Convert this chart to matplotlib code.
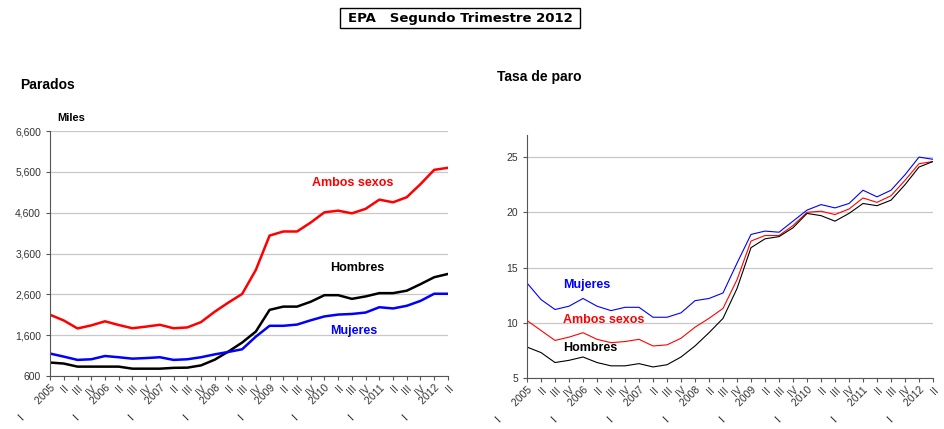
import matplotlib.pyplot as plt
from matplotlib.patches import Rectangle
import numpy as np

plt.rcParams['font.family'] = ['Liberation Sans', 'DejaVu Sans']

# Quarters 2005 I .. 2012 II
years = list(range(2005, 2013))
quarter_names = ["I", "II", "III", "IV"]
tick_labels = []
for y in years:
    for q in quarter_names:
        tick_labels.append(f"{q}       {y}" if q == "I" else q)
tick_labels = tick_labels[:30]

# Parados (miles)
parados_ambos = [2100, 1960, 1765, 1840, 1940, 1850, 1770, 1810, 1855, 1770, 1790, 1920,
                 2175, 2400, 2610, 3200, 4040, 4140, 4140, 4360, 4610, 4650, 4585, 4695,
                 4920, 4855, 4980, 5300, 5650, 5700]
parados_hombres = [930, 905, 830, 830, 830, 830, 780, 780, 780, 800, 805, 860,
                   1000, 1200, 1420, 1690, 2220, 2300, 2300, 2420, 2580, 2580, 2490, 2550,
                   2630, 2630, 2690, 2850, 3020, 3100]
parados_mujeres = [1150, 1075, 995, 1010, 1090, 1060, 1025, 1040, 1060, 995, 1010, 1060,
                   1130, 1190, 1255, 1565, 1830, 1830, 1860, 1965, 2060, 2105, 2120, 2155,
                   2285, 2255, 2320, 2440, 2615, 2615]

# Tasa de paro (%)
tasa_ambos = [10.2, 9.3, 8.4, 8.7, 9.1, 8.5, 8.2, 8.3, 8.5, 7.9, 8.0, 8.6,
              9.6, 10.4, 11.3, 13.9, 17.4, 17.9, 17.9, 18.8, 20.0, 20.1, 19.8, 20.3,
              21.3, 20.9, 21.5, 22.9, 24.4, 24.6]
tasa_hombres = [7.8, 7.3, 6.4, 6.6, 6.9, 6.4, 6.1, 6.1, 6.3, 6.0, 6.2, 6.9,
                7.9, 9.1, 10.4, 13.1, 16.8, 17.6, 17.8, 18.6, 19.9, 19.7, 19.2, 19.9,
                20.8, 20.6, 21.1, 22.5, 24.1, 24.6]
tasa_mujeres = [13.6, 12.1, 11.2, 11.5, 12.2, 11.5, 11.1, 11.4, 11.4, 10.5, 10.5, 10.9,
                12.0, 12.2, 12.7, 15.4, 18.0, 18.3, 18.2, 19.2, 20.2, 20.7, 20.4, 20.8,
                22.0, 21.4, 22.0, 23.4, 25.0, 24.8]

x = np.arange(len(tick_labels))

fig = plt.figure(figsize=(9.45, 4.29), dpi=100)

# Main title in a box
fig.patches.append(Rectangle((0.36, 0.935), 0.254, 0.046, transform=fig.transFigure,
                             fc="white", ec="black", lw=1))
fig.text(0.487, 0.958, "EPA   Segundo Trimestre 2012", ha="center", va="center",
         fontsize=9.5, fontweight="bold", family=['Liberation Sans Narrow', 'DejaVu Sans'])


def style_axis(ax):
    for s in ["top", "right"]:
        ax.spines[s].set_visible(False)
    for s in ["left", "bottom"]:
        ax.spines[s].set_color("#555555")
    ax.yaxis.grid(True, color="#c8c8c8", lw=0.9)
    ax.set_axisbelow(True)
    ax.set_xlim(0, len(x) - 1)
    ax.set_xticks(x)
    ax.set_xticklabels(tick_labels, rotation=45, ha="right", rotation_mode="anchor",
                       fontsize=7.5, color="#333333")
    ax.tick_params(axis="x", length=3, color="#555555", pad=2)
    ax.tick_params(axis="y", length=3, color="#555555", labelsize=7.5, labelcolor="#333333")


# Left: Parados
ax1 = fig.add_axes([0.053, 0.1235, 0.421, 0.571])
ax1.plot(x, parados_ambos, color="#ff0000", lw=1.8)
ax1.plot(x, parados_hombres, color="black", lw=1.8)
ax1.plot(x, parados_mujeres, color="#0000ff", lw=1.8)
ax1.set_ylim(600, 6600)
ax1.set_yticks(range(600, 6601, 1000))
ax1.set_yticklabels([f"{v:,}" for v in range(600, 6601, 1000)])
style_axis(ax1)
ax1.text(19.1, 5330, "Ambos sexos", color="#ff0000", fontsize=9, fontweight="bold", va="center")
ax1.text(20.4, 3250, "Hombres", color="black", fontsize=9, fontweight="bold", va="center")
ax1.text(20.4, 1700, "Mujeres", color="#0000ff", fontsize=9, fontweight="bold", va="center")
fig.text(0.021, 0.802, "Parados", fontsize=10, fontweight="bold", va="center")
fig.text(0.061, 0.725, "Miles", fontsize=8, fontweight="bold", va="center")

# Right: Tasa de paro
ax2 = fig.add_axes([0.5577, 0.1189, 0.4296, 0.5664])
ax2.plot(x, tasa_mujeres, color="#0000ff", lw=0.8)
ax2.plot(x, tasa_ambos, color="#ff0000", lw=0.8)
ax2.plot(x, tasa_hombres, color="black", lw=0.8)
ax2.set_ylim(5, 27)
ax2.set_yticks([5, 10, 15, 20, 25])
style_axis(ax2)
ax2.text(2.6, 13.4, "Mujeres", color="#0000ff", fontsize=9, fontweight="bold", va="center")
ax2.text(2.6, 10.25, "Ambos sexos", color="#ff0000", fontsize=9, fontweight="bold", va="center")
ax2.text(2.6, 7.7, "Hombres", color="black", fontsize=9, fontweight="bold", va="center")
fig.text(0.526, 0.82, "Tasa de paro", fontsize=10, fontweight="bold", va="center")

fig.savefig("out.png", dpi=100)
